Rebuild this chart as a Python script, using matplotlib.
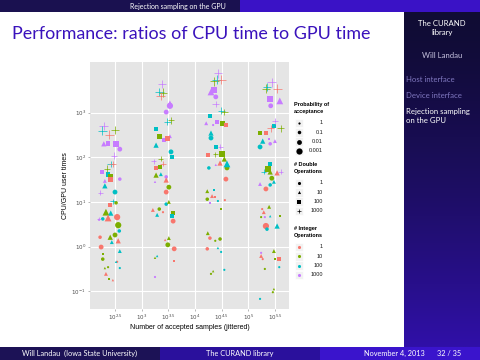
import numpy as np
import matplotlib
matplotlib.use("Agg")
import matplotlib.pyplot as plt
from matplotlib.patches import Rectangle

# ---- data, exponents of 10 ----
log_samples = [
    # ~10^2.5
    2.29, 2.26, 2.50, 2.39, 2.29, 2.37, 2.52, 2.59, 2.48, 2.42, 2.46, 2.35, 2.26, 2.37, 2.41, 2.42, 2.59,
    2.31, 2.31, 2.22, 2.50, 2.46, 2.52, 2.41, 2.33, 2.42, 2.54, 2.37, 2.27, 2.20, 2.56, 2.58, 2.41, 2.50,
    2.22, 2.56, 2.44, 2.24, 2.59, 2.27, 2.37, 2.33, 2.59, 2.31, 2.54, 2.52, 2.27, 2.46, 2.39, 2.20,
    # ~10^3.5
    3.38, 3.33, 3.40, 3.36, 3.53, 3.53, 3.46, 3.48, 3.55, 3.27, 3.33, 3.42, 3.48, 3.53, 3.27, 3.55, 3.57,
    3.23, 3.36, 3.40, 3.34, 3.27, 3.27, 3.36, 3.46, 3.25, 3.46, 3.51, 3.46, 3.51, 3.46, 3.21, 3.33, 3.40,
    3.29, 3.59, 3.57, 3.59, 3.51, 3.44, 3.49, 3.61, 3.25, 3.29, 3.61, 3.25,
    # ~10^4.5
    4.43, 4.36, 4.41, 4.49, 4.30, 4.36, 4.39, 4.39, 4.49, 4.55, 4.28, 4.21, 4.41, 4.51, 4.58, 4.34, 4.30,
    4.30, 4.39, 4.47, 4.24, 4.38, 4.51, 4.55, 4.47, 4.60, 4.60, 4.26, 4.39, 4.58, 4.23, 4.36, 4.32, 4.38,
    4.23, 4.43, 4.56, 4.28, 4.49, 4.24, 4.28, 4.38, 4.47, 4.23, 4.43, 4.49, 4.34, 4.30, 4.55,
    # ~10^5.5
    5.44, 5.33, 5.35, 5.54, 5.41, 5.59, 5.42, 5.50, 5.48, 5.61, 5.42, 5.22, 5.33, 5.27, 5.39, 5.50, 5.22,
    5.41, 5.41, 5.29, 5.37, 5.41, 5.54, 5.61, 5.44, 5.48, 5.22, 5.33, 5.41, 5.26, 5.39, 5.29, 5.24, 5.41,
    5.31, 5.59, 5.33, 5.54, 5.35, 5.48, 5.58, 5.50, 5.24, 5.24, 5.27, 5.58, 5.31, 5.48, 5.46, 5.22,
]
log_ratio = [
    2.70, 2.59, 2.61, 2.50, 2.30, 2.30, 2.30, 2.18, 2.03, 1.85, 1.85, 1.74, 1.67, 1.62, 1.56, 1.51, 1.51,
    1.47, 1.36, 1.20, 1.22, 1.02, 0.98, 0.93, 0.77, 0.75, 0.66, 0.64, 0.62, 0.62, 0.48, 0.35, 0.21, 0.26,
    0.21, 0.13, 0.10, -0.01, -0.10, -0.28, -0.46, -0.61, -0.48, -0.48, -0.34, -0.34, -0.16, -0.75, -0.72, 0.60,
    3.64, 3.46, 3.44, 3.37, 3.15, 3.21, 3.01, 2.79, 2.83, 2.63, 2.47, 2.38, 2.41, 2.47, 2.27, 2.12, 2.01,
    1.91, 1.96, 1.85, 1.78, 1.76, 1.60, 1.62, 1.56, 1.45, 1.49, 1.33, 1.22, 1.00, 0.95, 0.82, 0.84, 0.77,
    0.71, 0.75, 0.68, 0.57, 0.19, 0.15, 0.04, -0.05, -0.25, -0.21, -0.32, -0.68,
    3.88, 3.70, 3.73, 3.73, 3.46, 3.50, 3.35, 3.19, 3.04, 3.01, 2.92, 2.76, 2.79, 2.76, 2.72, 2.72, 2.54,
    2.43, 2.23, 2.23, 2.05, 2.07, 2.07, 1.96, 1.87, 1.85, 1.76, 1.76, 1.83, 1.51, 1.24, 1.27, 1.13, 1.11,
    1.06, 1.02, 1.04, 0.98, 0.84, 0.30, 0.19, 0.13, 0.17, -0.05, -0.03, -0.12, -0.55, -0.61, -0.52,
    3.68, 3.53, 3.57, 3.53, 3.30, 3.26, 3.15, 2.81, 2.70, 2.65, 2.65, 2.54, 2.54, 2.36, 2.41, 2.36, 2.23,
    2.30, 1.85, 1.67, 1.74, 1.67, 1.65, 1.67, 1.53, 1.45, 1.40, 1.29, 1.38, 0.84, 0.89, 0.77, 0.66, 0.68,
    0.66, 0.68, 0.46, 0.46, 0.39, -0.10, -0.28, -0.28, -0.21, -0.14, -0.28, -0.46, -0.50, -0.95, -1.02, -1.17,
]
int_ops = [
    1000, 100, 10, 1, 1000, 1000, 1000, 1000, 1000, 100, 1, 10, 1000, 100, 10, 1, 1000,
    1000, 100, 1000, 100, 100, 10, 1, 10, 100, 1, 1, 100, 1000, 10, 100, 10, 10,
    1, 1, 100, 1, 100, 10, 10, 1, 100, 10, 1, 100, 10, 1, 10, 1000,
    1000, 100, 10, 1, 1000, 1000, 1000, 100, 10, 100, 10, 1000, 1, 1000, 100, 100, 100,
    1000, 10, 1, 10, 1, 10, 100, 1000, 1000, 1, 10, 1, 10, 100, 1, 10, 1,
    100, 10, 100, 1, 10, 1, 10, 1, 10, 100, 1, 1000,
    1000, 10, 100, 1, 1000, 1000, 1000, 1000, 100, 10, 100, 1000, 1000, 10, 1, 1000, 100,
    100, 100, 1000, 1, 10, 10, 10, 1, 100, 10, 100, 1000, 1, 10, 100, 1, 1,
    10, 100, 1, 1000, 10, 10, 1, 10, 10, 1, 100, 100, 10, 10, 100,
    1000, 10, 100, 1, 1000, 1000, 1000, 1000, 100, 10, 1, 10, 1, 100, 1000, 1000, 100,
    1000, 100, 100, 10, 10, 1, 1000, 10, 100, 1000, 1, 100, 1, 10, 1, 10, 100,
    1000, 10, 1, 100, 100, 10, 1, 10, 1, 1000, 1, 100, 10, 10, 10, 100,
]
dbl_ops = [
    1000, 1000, 1000, 1000, 10, 100, 100, 1, 1000, 1000, 1000, 1000, 100, 100, 100, 100, 1,
    10, 10, 1000, 1, 1000, 1, 100, 10, 10, 1, 10, 1, 1000, 1, 1, 10, 1,
    1, 10, 10, 1, 10, 1, 1, 10, 1, 10, 1, 10, 100, 10, 100, 1,
    1000, 1000, 1000, 1000, 1, 10, 1, 1000, 1000, 100, 100, 100, 100, 10, 10, 1, 100,
    1000, 1000, 1000, 100, 100, 10, 10, 1, 10, 10, 1, 1, 10, 1, 10, 1, 1,
    10, 100, 100, 1, 10, 10, 1, 1, 10, 10, 100, 1,
    1000, 1000, 1000, 1000, 10, 100, 1, 1000, 1000, 1000, 100, 10, 100, 100, 100, 1, 10,
    1, 100, 1000, 100, 1000, 100, 10, 10, 10, 1, 1, 10, 1, 10, 100, 10, 100,
    1, 1, 1, 100, 100, 10, 1, 1, 1, 1, 10, 1, 10, 1, 1,
    1000, 1000, 1000, 1000, 100, 10, 1, 1000, 100, 1000, 1000, 100, 100, 10, 100, 10, 1,
    1, 100, 1000, 100, 10, 10, 1000, 1, 10, 10, 1, 1, 1, 10, 10, 1, 10,
    1, 100, 1, 10, 1, 10, 100, 100, 10, 1, 1, 1, 1, 10, 1, 1,
]
accept_prob = [
    0.001, 0.001, 0.001, 0.001, 0.01, 0.01, 0.001, 0.01, 0.01, 0.01, 0.01, 0.01, 0.1, 0.01, 0.01, 0.01, 0.1,
    0.1, 0.01, 0.1, 0.01, 0.1, 0.1, 0.1, 0.001, 0.01, 0.001, 0.001, 0.1, 1, 0.001, 0.1, 0.01, 0.01,
    0.1, 0.01, 0.1, 0.01, 0.1, 0.1, 1, 0.1, 1, 1, 1, 1, 1, 1, 1, 1,
    0.001, 0.001, 0.001, 0.001, 0.001, 0.01, 0.01, 0.01, 0.01, 0.01, 0.01, 0.1, 0.01, 0.1, 0.01, 0.01, 0.1,
    0.1, 0.1, 0.1, 0.1, 0.1, 0.01, 0.1, 0.1, 1, 0.01, 0.01, 0.01, 0.1, 0.1, 0.1, 0.1, 1,
    0.1, 0.1, 0.1, 0.01, 0.1, 1, 0.01, 0.01, 1, 1, 1, 1,
    0.001, 0.001, 0.001, 0.001, 0.001, 0.001, 0.01, 0.01, 0.01, 0.01, 0.01, 0.1, 0.1, 0.01, 0.01, 1, 0.01,
    0.01, 0.1, 0.1, 0.1, 0.1, 0.001, 0.01, 0.01, 0.001, 0.01, 0.1, 1, 0.01, 0.1, 1, 0.1, 1,
    0.1, 1, 1, 1, 1, 0.1, 0.1, 1, 0.1, 0.1, 1, 1, 1, 1, 1,
    0.001, 0.001, 0.001, 0.001, 0.001, 0.001, 0.01, 0.01, 0.01, 0.01, 0.01, 0.01, 0.01, 0.01, 1, 0.1, 0.01,
    0.1, 0.1, 0.1, 0.001, 0.01, 0.01, 0.1, 0.01, 0.1, 0.1, 0.01, 0.1, 1, 0.1, 0.1, 1, 1,
    1, 1, 0.001, 0.01, 0.1, 0.1, 0.1, 1, 0.1, 1, 1, 1, 1, 1, 1, 1,
]

prob_levels = [1, 0.1, 0.01, 0.001]
dbl_levels = [1, 10, 100, 1000]
int_levels = [1, 10, 100, 1000]

int_colors = {1: "#F8766D", 10: "#7CAE00", 100: "#00BFC4", 1000: "#C77CFF"}
dbl_markers = {1: "o", 10: "^", 100: "s", 1000: "+"}
prob_sizes = {1: 2.5, 0.1: 6.5, 0.01: 12, 0.001: 20}

x_ticks = [2.5, 3, 3.5, 4, 4.5, 5, 5.5]
y_ticks = [-1, 0, 1, 2, 3]

W, H = 480, 360
fig = plt.figure(figsize=(4.8, 3.6), dpi=100)

# slide decorations in pixel coordinates
bg = fig.add_axes([0, 0, 1, 1], zorder=-1)
bg.set_xlim(0, W)
bg.set_ylim(H, 0)
bg.axis("off")

slide_font = "Lato"
bg.add_patch(Rectangle((0, 0), 240, 12, color="#1a1150", lw=0))
bg.add_patch(Rectangle((240, 0), 240, 12, color="#3a12c6", lw=0))
bg.text(178, 6.5, "Rejection sampling on the GPU", color="white", fontsize=5,
        ha="center", va="center", family=slide_font)

grad = np.linspace(0, 1, 256).reshape(-1, 1) ** 1.4
top_c = np.array([0x10, 0x0c, 0x34]) / 255
bot_c = np.array([0x30, 0x10, 0xa8]) / 255
side = top_c + (bot_c - top_c) * grad[..., None]
bg.imshow(side, extent=(404, 480, 347, 12), aspect="auto", interpolation="bilinear", zorder=0)

bg.text(442, 28, "The CURAND\nlibrary", color="white", fontsize=5.6, ha="center", va="center",
        family=slide_font, linespacing=1.25)
bg.text(442, 55, "Will Landau", color="#c8c4e0", fontsize=5.6, ha="center", va="center", family=slide_font)
bg.text(406, 79, "Host interface", color="#8078c0", fontsize=5.6, ha="left", va="center", family=slide_font)
bg.text(406, 95, "Device interface", color="#8078c0", fontsize=5.6, ha="left", va="center", family=slide_font)
bg.text(406, 116, "Rejection sampling\non the GPU", color="white", fontsize=5.6, ha="left", va="center",
        family=slide_font, linespacing=1.25)

bg.add_patch(Rectangle((0, 347), 160, 13, color="#1c1256", lw=0, zorder=2))
bg.add_patch(Rectangle((160, 347), 160, 13, color="#2a109c", lw=0, zorder=2))
bg.add_patch(Rectangle((320, 347), 160, 13, color="#3a14cc", lw=0, zorder=2))
bg.text(80, 353.5, "Will Landau  (Iowa State University)", color="white", fontsize=5.3, ha="center",
        va="center", family=slide_font, zorder=3)
bg.text(240, 353.5, "The CURAND library", color="white", fontsize=5.3, ha="center", va="center",
        family=slide_font, zorder=3)
bg.text(394, 353.5, "November 4, 2013", color="white", fontsize=5.3, ha="center", va="center",
        family=slide_font, zorder=3)
bg.text(449, 353.5, "32 / 35", color="white", fontsize=5.3, ha="center", va="center",
        family=slide_font, zorder=3)

bg.text(12, 34, "Performance: ratios of CPU time to GPU time", color="#3a12bc", fontsize=12.9,
        ha="left", va="center", family=slide_font)

# ---- the ggplot-like panel ----
ax = fig.add_axes([90 / W, 1 - 309 / H, 199 / W, 247 / H])
ax.set_facecolor("#E5E5E5")
ax.set_xscale("log")
ax.set_yscale("log")
ax.set_xlim(10 ** 2.031, 10 ** 5.763)
ax.set_ylim(10 ** -1.396, 10 ** 4.13)
for s in ax.spines.values():
    s.set_visible(False)
ax.set_xticks([10 ** v for v in x_ticks])
ax.set_xticklabels([r"$10^{%g}$" % v for v in x_ticks])
ax.set_yticks([10 ** v for v in y_ticks])
ax.set_yticklabels([r"$10^{%g}$" % v for v in y_ticks])
ax.minorticks_off()
ax.tick_params(length=1.5, width=0.4, color="#7f7f7f", labelsize=4, labelcolor="#4d4d4d", pad=1.5)
ax.grid(True, color="white", lw=0.8)
ax.set_axisbelow(True)
ax.set_xlabel("Number of accepted samples (jittered)", fontsize=5, labelpad=1, family="Liberation Sans")
ax.set_ylabel("CPU/GPU user times", fontsize=5, labelpad=2, family="Liberation Sans")

xs = 10 ** np.array(log_samples)
ys = 10 ** np.array(log_ratio)
ints = np.array(int_ops)
dbls = np.array(dbl_ops)
probs = np.array(accept_prob)

for d in dbl_levels:
    m = dbls == d
    cols = [int_colors[i] for i in ints[m]]
    sz = np.array([prob_sizes[p] for p in probs[m]])
    if d == 1000:
        ax.scatter(xs[m], ys[m], s=sz * 2.0, c=cols, marker="+", linewidths=0.5, zorder=3)
    elif d == 10:
        ax.scatter(xs[m], ys[m], s=sz * 1.2, c=cols, marker="^", linewidths=0, zorder=3)
    else:
        ax.scatter(xs[m], ys[m], s=sz, c=cols, marker=dbl_markers[d], linewidths=0, zorder=3)

# ---- legends (drawn in pixel space) ----
lg = fig.add_axes([0, 0, 1, 1], zorder=5)
lg.set_xlim(0, W)
lg.set_ylim(H, 0)
lg.axis("off")
lfont = "Liberation Sans"


def legend_block(y_title, title, labels, keys):
    lg.text(294, y_title, title, fontsize=4, fontweight="bold", ha="left", va="center",
            family=lfont, linespacing=1.4)
    for k, (lab, (mk, sz, col)) in enumerate(zip(labels, keys)):
        yy = y_title + 15 + 9.3 * k
        lg.add_patch(Rectangle((294.5, yy - 4.4), 8.8, 8.8, facecolor="#F2F2F2", edgecolor="white", lw=0.5))
        if mk == "+":
            lg.scatter([299], [yy], s=sz, c=col, marker=mk, linewidths=0.5)
        else:
            lg.scatter([299], [yy], s=sz, c=col, marker=mk, linewidths=0)
        lg.text(323, yy, lab, fontsize=4, ha="right", va="center", family=lfont, color="#1a1a1a")


legend_block(108, "Probability of\nacceptance", ["1", "0.1", "0.01", "0.001"],
             [("o", prob_sizes[p], "black") for p in prob_levels])
legend_block(168, "# Double\nOperations", ["1", "10", "100", "1000"],
             [(dbl_markers[d], 5 * (2.0 if d == 1000 else 1), "black") for d in dbl_levels])
legend_block(232, "# Integer\nOperations", ["1", "10", "100", "1000"],
             [("o", 5, int_colors[i]) for i in int_levels])

fig.savefig("out.png", dpi=100)
